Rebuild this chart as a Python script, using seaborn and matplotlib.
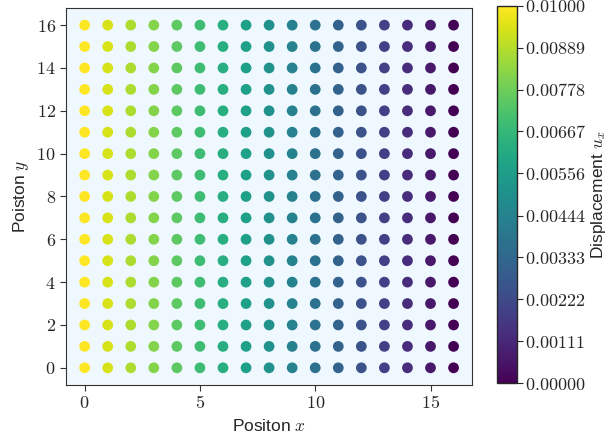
import numpy as np
import pandas as pd
import seaborn as sns
import matplotlib
import matplotlib.pyplot as plt
from matplotlib.ticker import FuncFormatter

# grid positions and displacement per column
x_positions = [0, 1, 2, 3, 4, 5, 6, 7, 8, 9, 10, 11, 12, 13, 14, 15, 16]
y_positions = [0, 1, 2, 3, 4, 5, 6, 7, 8, 9, 10, 11, 12, 13, 14, 15, 16]
ux_by_column = [0.01, 0.009375, 0.00875, 0.008125, 0.0075, 0.006875, 0.00625,
                0.005625, 0.005, 0.004375, 0.00375, 0.003125, 0.0025,
                0.001875, 0.00125, 0.000625, 0.0]
cbar_ticks = [0.0, 0.00111, 0.00222, 0.00333, 0.00444, 0.00556,
              0.00667, 0.00778, 0.00889, 0.01]

rows = []
for i, x in enumerate(x_positions):
    for y in y_positions:
        rows.append({'x': x, 'y': y, 'ux': ux_by_column[i]})
df = pd.DataFrame(rows)

sns.set_style('ticks')
plt.rcParams['font.family'] = ['Liberation Sans', 'DejaVu Sans']
plt.rcParams['mathtext.fontset'] = 'cm'

fig = plt.figure(figsize=(6.13, 4.44), dpi=100)
ax = fig.add_axes([0.108, 0.133, 0.662, 0.849])
cax = fig.add_axes([0.811, 0.137, 0.032, 0.850])

ax.set_facecolor('aliceblue')
sns.scatterplot(data=df, x='x', y='y', hue='ux', palette='viridis',
                hue_norm=(0, 0.01), s=60, linewidth=0, legend=False, ax=ax)

ax.set_xticks([0, 5, 10, 15])
ax.set_yticks([0, 2, 4, 6, 8, 10, 12, 14, 16])
mathfmt = FuncFormatter(lambda v, p: r'$%d$' % v)
ax.xaxis.set_major_formatter(mathfmt)
ax.yaxis.set_major_formatter(mathfmt)
ax.tick_params(labelsize=13, length=4, color='#333333')
for sp in ax.spines.values():
    sp.set_color('#333333')
ax.set_xlabel(r'Positon $x$', fontsize=12.5)
ax.set_ylabel(r'Poiston $y$', fontsize=12.5)

sm = matplotlib.cm.ScalarMappable(cmap='viridis',
                                  norm=matplotlib.colors.Normalize(0, 0.01))
cb = fig.colorbar(sm, cax=cax, ticks=cbar_ticks)
cb.ax.yaxis.set_major_formatter(FuncFormatter(lambda v, p: r'$%.5f$' % v))
cb.ax.tick_params(labelsize=13, length=4, pad=2)
cb.set_label(r'Displacement $u_x$', fontsize=12.5, labelpad=2)
cb.outline.set_linewidth(1.0)

fig.savefig('out.png', dpi=100)
